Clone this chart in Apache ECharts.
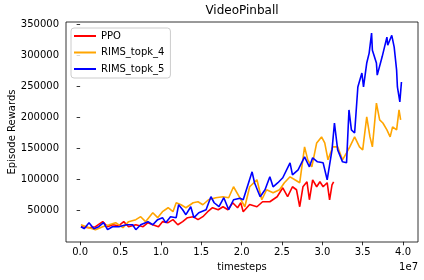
<!DOCTYPE html>
<html><head><meta charset="utf-8">
<script src="https://cdn.jsdelivr.net/npm/echarts@6/dist/echarts.min.js"></script>
<style>html,body{margin:0;padding:0;background:#fff}#c{width:424px;height:280px}</style>
</head><body><div id="c"></div>
<script>
// timesteps in units of 1e7
const ppoSteps = [0.01,0.11,0.19,0.28,0.34,0.40,0.48,0.54,0.60,0.69,0.78,0.84,0.90,0.97,1.02,1.09,1.15,1.21,1.27,1.33,1.40,1.46,1.52,1.58,1.64,1.71,1.77,1.83,1.89,1.95,1.99,2.02,2.10,2.19,2.26,2.35,2.44,2.51,2.57,2.63,2.68,2.72,2.76,2.81,2.84,2.88,2.93,2.97,3.01,3.06,3.09,3.12,3.14];
const ppoRewards = [24300,22700,24300,32400,24300,27500,25900,32400,24300,27500,24300,30800,27500,24300,32400,30800,35600,27500,32400,38800,40400,35600,40400,48400,54800,51600,56400,51600,62800,54800,62800,48400,60000,56400,64400,64400,72500,86900,72500,88500,83700,56400,88500,96500,67600,99700,88500,96500,88500,95000,67600,91700,96500];

const rims4Steps = [0.01,0.11,0.19,0.28,0.36,0.44,0.53,0.60,0.69,0.75,0.81,0.90,0.96,1.02,1.09,1.15,1.19,1.25,1.31,1.40,1.46,1.52,1.59,1.68,1.77,1.84,1.90,1.97,2.04,2.10,2.19,2.25,2.31,2.39,2.47,2.53,2.60,2.66,2.72,2.78,2.82,2.87,2.93,2.99,3.03,3.07,3.13,3.19,3.25,3.30,3.34,3.40,3.46,3.50,3.55,3.59,3.62,3.67,3.71,3.75,3.80,3.84,3.87,3.92,3.95,3.97];
const rims4Rewards = [27500,22700,19500,24300,27500,30800,22700,32400,35600,40400,32400,46800,38800,48400,54800,48400,62800,59600,54800,62800,64400,59600,67600,70900,72500,70900,88500,72500,56400,88500,99700,67600,83700,78900,83700,95000,104500,99700,95000,152700,131800,120600,159000,168700,159000,131800,152700,152700,131800,143000,152700,168700,152700,147800,200800,168700,152700,223000,196000,191000,180000,168700,184700,180000,212000,196000];

const rims5Steps = [0.01,0.05,0.11,0.17,0.23,0.29,0.34,0.40,0.48,0.57,0.65,0.69,0.75,0.84,0.90,0.96,1.02,1.06,1.12,1.19,1.22,1.27,1.31,1.37,1.41,1.47,1.56,1.62,1.66,1.72,1.78,1.84,1.90,1.98,2.02,2.13,2.16,2.23,2.29,2.35,2.39,2.45,2.51,2.60,2.63,2.70,2.78,2.84,2.88,2.94,3.01,3.06,3.12,3.15,3.19,3.25,3.30,3.33,3.36,3.40,3.44,3.49,3.51,3.55,3.58,3.61,3.62,3.67,3.68,3.74,3.80,3.81,3.86,3.89,3.92,3.93,3.96,3.98];
const rims5Rewards = [24300,21100,30800,21100,24300,30800,19500,24300,24300,27500,27500,19500,27500,32400,27500,35600,38800,30800,40400,38800,59600,51600,43600,56400,38800,46800,51600,72500,62800,56400,70900,51600,67600,70000,67600,112500,95000,72500,83700,104500,88500,95000,103000,127000,107700,115800,136600,120600,135000,128600,127000,99700,147800,191000,147800,128600,127000,212000,180000,175000,249000,271400,249000,287400,303400,335500,308000,287400,268000,297000,329000,316000,332000,313000,276000,249000,225000,257000];

const seriesNames = ['PPO','RIMS_topk_4','RIMS_topk_5'];
const seriesColors = ['#ff0000','#ffa500','#0000ff'];
const xTicks = [0,0.5,1,1.5,2,2.5,3,3.5,4];
const yTicks = [50000,100000,150000,200000,250000,300000,350000];

function pairs(a,b){return a.map((x,i)=>[x,b[i]]);}
const font = 'DejaVu Sans';
const chart = echarts.init(document.getElementById('c'), null, {renderer:'canvas'});
const stepsList = [ppoSteps, rims4Steps, rims5Steps];
const rewardsList = [ppoRewards, rims4Rewards, rims5Rewards];
chart.setOption({
  animation:false,
  title:{text:'VideoPinball', left:242, top:5, textAlign:'center', padding:0,
    textStyle:{fontFamily:font,fontSize:12,fontWeight:'normal',color:'#000'}},
  legend:{left:71, top:28, orient:'vertical', itemWidth:22, itemHeight:2, icon:'rect', itemGap:0.5,
    padding:[0,6,1,3], backgroundColor:'rgba(255,255,255,0.8)', borderColor:'#cccccc', borderWidth:1, borderRadius:3,
    textStyle:{fontFamily:font,fontSize:10,color:'#000',lineHeight:16}, data:seriesNames},
  grid:{left:66,right:6,top:22,bottom:38,show:true,borderColor:'#000',borderWidth:0.8,backgroundColor:'#fff',
    containLabel:false, outerBoundsMode:'none'},
  xAxis:{type:'value',min:-0.175,max:4.185,name:'timesteps',nameLocation:'middle',nameGap:20,nameMoveOverlap:false,
    nameTextStyle:{fontFamily:font,fontSize:10,color:'#000'},
    axisLine:{show:false},
    axisTick:{customValues:xTicks,length:3.5,lineStyle:{color:'#000',width:0.8}},
    axisLabel:{customValues:xTicks,formatter:v=>v.toFixed(1),margin:5,fontFamily:font,fontSize:10,color:'#000'},
    splitLine:{show:false}},
  yAxis:{type:'value',min:-300,max:353400,name:'Episode Rewards',nameLocation:'middle',nameGap:49,nameRotate:90,nameMoveOverlap:false,
    nameTextStyle:{fontFamily:font,fontSize:10,color:'#000'},
    axisLine:{show:false},
    axisTick:{customValues:yTicks,length:3.5,lineStyle:{color:'#000',width:0.8}},
    axisLabel:{customValues:yTicks,formatter:v=>String(Math.round(v)),margin:7,fontFamily:font,fontSize:10,color:'#000'},
    splitLine:{show:false}},
  graphic:[{type:'text',right:6,top:262,style:{text:'1e7',font:'10px "DejaVu Sans"',fill:'#000'}}],
  series:seriesNames.map((n,i)=>({name:n,type:'line',data:pairs(stepsList[i],rewardsList[i]),showSymbol:false,symbol:'none',
    color:seriesColors[i],lineStyle:{width:1.6,color:seriesColors[i]}}))
});
</script></body></html>
